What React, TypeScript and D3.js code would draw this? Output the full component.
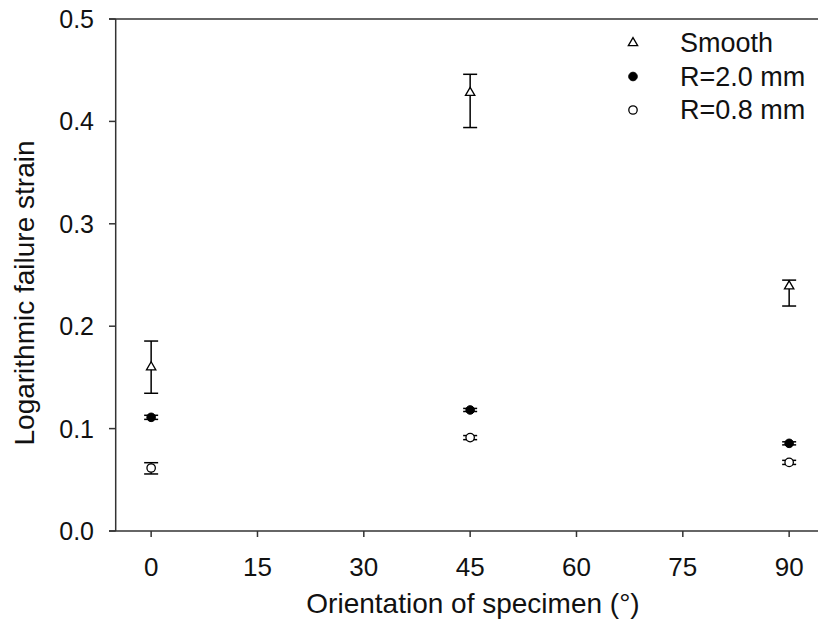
import React from "react";
import * as d3 from "d3";

const angles = [0, 45, 90];
const smoothVal = [0.16, 0.428, 0.239];
const smoothLo = [0.1345, 0.394, 0.2197];
const smoothHi = [0.1855, 0.446, 0.245];
const r20Val = [0.111, 0.1182, 0.0856];
const r20Lo = [0.109, 0.1167, 0.0841];
const r20Hi = [0.113, 0.1197, 0.0871];
const r08Val = [0.0615, 0.0912, 0.067];
const r08Lo = [0.0557, 0.0892, 0.065];
const r08Hi = [0.0667, 0.0932, 0.069];
const xTicks = [0, 15, 30, 45, 60, 75, 90];
const yTicks = [0, 0.1, 0.2, 0.3, 0.4, 0.5];
const legendLabels = ["Smooth", "R=2.0 mm", "R=0.8 mm"];

const W = 818, H = 636;
const FONT = "'Liberation Sans', Arial, sans-serif";

export default function App() {
  const x = d3.scaleLinear().domain([-5, 95]).range([115.7, 824.6]);
  const y = d3.scaleLinear().domain([0, 0.5]).range([531, 19]);
  const axisColor = "#333";
  const tri = d3.symbol().type(d3.symbolTriangle).size(38);
  const triPath = tri() as string;

  const series = [
    { val: smoothVal, lo: smoothLo, hi: smoothHi, kind: "tri" },
    { val: r20Val, lo: r20Lo, hi: r20Hi, kind: "fill" },
    { val: r08Val, lo: r08Lo, hi: r08Hi, kind: "open" },
  ];

  const marker = (kind: string, cx: number, cy: number, key: string) => {
    if (kind === "tri")
      return <path key={key} d={triPath} transform={`translate(${cx},${cy})`} fill="white" stroke="black" strokeWidth={1.3} />;
    if (kind === "fill")
      return <circle key={key} cx={cx} cy={cy} r={4.3} fill="black" stroke="black" strokeWidth={1} />;
    return <circle key={key} cx={cx} cy={cy} r={4.2} fill="white" stroke="black" strokeWidth={1.3} />;
  };

  return (
    <svg width={W} height={H} style={{ position: "absolute", left: 0, top: 0, background: "white" }} fontFamily={FONT}>
      <rect width={W} height={H} fill="white" />
      <line x1={109} x2={W} y1={y(0.5)} y2={y(0.5)} stroke={axisColor} strokeWidth={1.5} />
      <line x1={109} x2={W} y1={y(0)} y2={y(0)} stroke={axisColor} strokeWidth={1.5} />
      <line x1={x(-5)} x2={x(-5)} y1={y(0.5)} y2={y(0)} stroke={axisColor} strokeWidth={1.5} />
      {yTicks.map((t) => (
        <g key={"yt" + t}>
          <line x1={109} x2={x(-5)} y1={y(t)} y2={y(t)} stroke={axisColor} strokeWidth={1.5} />
          <text x={94} y={y(t)} dy="0.36em" textAnchor="end" fontSize={25} fill="#111">{t.toFixed(1)}</text>
        </g>
      ))}
      {xTicks.map((t) => (
        <g key={"xt" + t}>
          <line x1={x(t)} x2={x(t)} y1={y(0)} y2={y(0) + 6} stroke={axisColor} strokeWidth={1.5} />
          <text x={x(t)} y={576} textAnchor="middle" fontSize={26} fill="#111">{t}</text>
        </g>
      ))}
      <text x={473} y={613} textAnchor="middle" fontSize={28} fill="#111">Orientation of specimen (°)</text>
      <text transform={`translate(34,${(y(0) + y(0.5)) / 2 + 18}) rotate(-90)`} textAnchor="middle" fontSize={28} fill="#111">Logarithmic failure strain</text>
      {series.map((s, si) => (
        <g key={"s" + si}>
          {angles.map((a, i) => (
            <g key={"e" + i}>
              <line x1={x(a)} x2={x(a)} y1={y(s.lo[i])} y2={y(s.hi[i])} stroke="black" strokeWidth={1.5} />
              <line x1={x(a) - 7} x2={x(a) + 7} y1={y(s.lo[i])} y2={y(s.lo[i])} stroke="black" strokeWidth={1.5} />
              <line x1={x(a) - 7} x2={x(a) + 7} y1={y(s.hi[i])} y2={y(s.hi[i])} stroke="black" strokeWidth={1.5} />
            </g>
          ))}
          {angles.map((a, i) => marker(s.kind, x(a), y(s.val[i]), "m" + i))}
        </g>
      ))}
      {legendLabels.map((lab, i) => (
        <g key={"lg" + i}>
          {marker(series[i].kind, 633, 43 + i * 33.5, "lm" + i)}
          <text x={680} y={52 + i * 33.5} fontSize={27} fill="#111">{lab}</text>
        </g>
      ))}
    </svg>
  );
}
